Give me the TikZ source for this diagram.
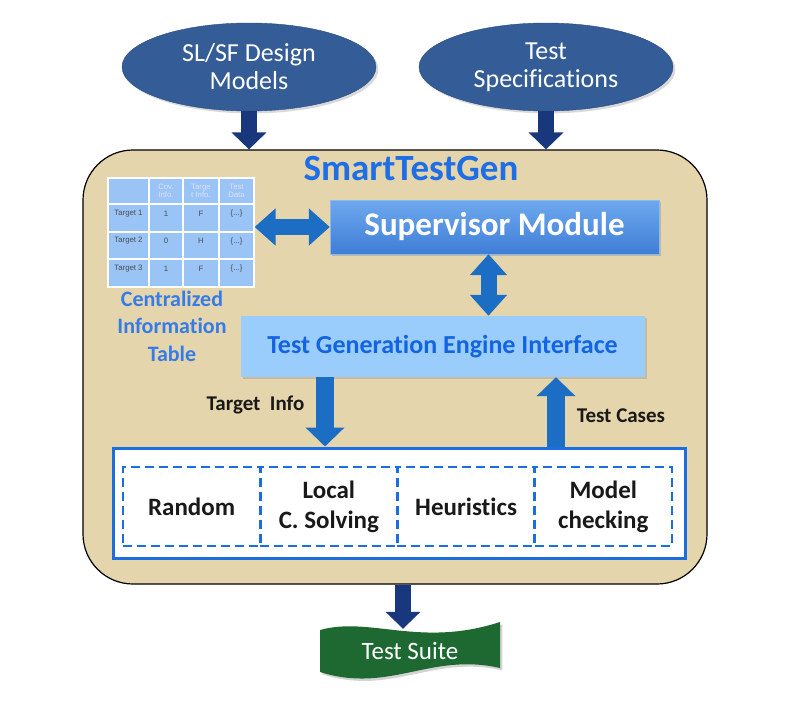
\documentclass[tikz,border=0pt]{standalone}
\usepackage{fontspec}
\setmainfont{Carlito}[Ligatures={NoCommon}]
\newfontfamily\tabfont{Liberation Sans}
\usepackage{xcolor}
\usetikzlibrary{arrows.meta, positioning, shapes.geometric, shadows}

\definecolor{parchment}{HTML}{E5D5AC}
\definecolor{navy}{HTML}{19377D}
\definecolor{blobfill}{HTML}{345C96}
\definecolor{blobedge}{HTML}{2B4C80}
\definecolor{linkblue}{HTML}{1C6EC4}
\definecolor{suptop}{HTML}{6EA8EE}
\definecolor{supbot}{HTML}{3F7ED6}
\definecolor{engfill}{HTML}{9ACCFC}
\definecolor{engtext}{HTML}{1464E1}
\definecolor{titleblue}{HTML}{1E6EE6}
\definecolor{tablefill}{HTML}{99C4F5}
\definecolor{techblue}{HTML}{1A6EE0}
\definecolor{suitegreen}{HTML}{1E6932}

\begin{document}
\begin{tikzpicture}[
    x=1pt, y=-1pt,
    blob/.style={
      ellipse, draw=blobedge, fill=blobfill, text=white,
      align=center, minimum width=254pt, minimum height=88pt,
      inner sep=0pt, font=\fontsize{26}{31}\selectfont,
      drop shadow={opacity=0.3}
    },
    mainbox/.style={
      draw=black, line width=1.2pt, fill=parchment,
      rounded corners=50pt, minimum width=624pt, minimum height=434pt
    },
    supbox/.style={
      draw=suptop!80!white, top color=suptop, bottom color=supbot,
      minimum width=329pt, minimum height=54pt, text=white,
      font=\bfseries\fontsize{33}{36}\selectfont,
      drop shadow={opacity=0.35}
    },
    engbox/.style={
      fill=engfill, minimum width=404pt, minimum height=61pt,
      text=engtext, font=\bfseries\fontsize{26}{30}\selectfont,
      drop shadow={opacity=0.3}
    },
    tabhead/.style={text=white!88!blue, align=center,
      font=\tabfont\fontsize{7.8}{8.6}\selectfont},
    tabcell/.style={text=black!70, font=\tabfont\fontsize{7.8}{8.6}\selectfont},
    techbox/.style={
      draw=techblue, line width=3pt, fill=white,
      minimum width=572pt, minimum height=110pt
    },
    engine/.style={
      draw=techblue, dash pattern=on 9pt off 5pt, line width=2.6pt,
      minimum width=137.25pt, minimum height=79pt, outer sep=0pt,
      inner sep=0pt, align=center, text=black!90,
      font=\bfseries\fontsize{25}{30}\selectfont
    },
    flowlabel/.style={anchor=base, text=black!90,
      font=\bfseries\fontsize{21}{24}\selectfont},
    navyarrow/.style={navy, line width=16pt, -{Triangle[length=17pt, width=34pt]}},
    bluearrow/.style={linkblue, line width=18pt, -{Triangle[length=19pt, width=38pt]}},
    dblarrow/.style={linkblue, line width=16pt,
      {Triangle[length=21pt, width=36pt]}-{Triangle[length=21pt, width=36pt]}}
]
\useasboundingbox (0,0) rectangle (808,702);

% --- Inputs ---
\node[blob] (models) at (249,67) {\raisebox{-3pt}{SL/SF Design}\\Models};
\node[blob] (specs) at (546,67) {\raisebox{-3pt}{Test}\\Specifications};

% --- Main box ---
\node[mainbox] (stg) at (395,367) {};
\node[text=titleblue, font=\bfseries\fontsize{37}{40}\selectfont] (title) at (411,168) {SmartTestGen};

% --- Information table ---
\node[fill=tablefill, draw=white, line width=1.2pt, minimum width=146pt,
      minimum height=109pt, inner sep=0pt] (cit) at (181,232.5) {};
\foreach \x in {149,183,219}
  \draw[white, line width=1.2pt] (\x,178) -- (\x,287);
\foreach \y in {204,232,259}
  \draw[white, line width=1.2pt] (108,\y) -- (254,\y);
\node[tabhead] (h1) at (166,191) {Cov.\\Info.};
\node[tabhead] (h2) at (201,191) {Targe\\t Info.};
\node[tabhead] (h3) at (236.5,191) {Test\\Data};
\foreach \n/\c/\k [count=\i] in {1/1/F, 2/0/H, 3/1/F} {
  \node[tabcell] (t\i) at (128.5,186+27.5*\i) {Target \n};
  \node[tabcell] (c\i) at (166,186+27.5*\i) {\c};
  \node[tabcell] (k\i) at (201,186+27.5*\i) {\k};
  \node[tabcell] (d\i) at (236.5,186+27.5*\i) {\{...\}};
}
\node[text=titleblue!90!white, align=center,
      font=\bfseries\fontsize{22}{27.5}\selectfont] (citlabel) at (172,326)
      {Centralized\\Information\\Table};

% --- Supervisor and engine interface ---
\node[supbox] (sup) at (494.5,227) {Supervisor Module};
\node[engbox] (eng) at (442.5,346.5) {Test Generation Engine Interface};

% --- Engines ---
\node[techbox] (tech) at (399,503) {};
\node[engine] (rnd) at (191.6,506.5) {Random};
\node[engine, right=0pt of rnd] (lcs) {Local\\C. Solving};
\node[engine, right=0pt of lcs] (heu) {Heuristics};
\node[engine, right=0pt of heu] (mc) {Model\\checking};

% --- Output ---
\path[fill=suitegreen, drop shadow={opacity=0.35}]
  (320,630) .. controls (370,616) and (420,648) .. (500,622)
  -- (500,668) .. controls (430,652) and (390,694) .. (320,672) -- cycle;
\node[text=white, minimum height=44pt, font=\fontsize{25}{28}\selectfont]
  (suite) at (410,651) {Test Suite};

% --- Arrows ---
\coordinate (ti) at (325,0);
\coordinate (tc) at (556,0);
\coordinate (suitetip) at ([xshift=-7pt]suite.north);
\draw[navyarrow] (models.south) -- (models.south |- stg.north);
\draw[navyarrow] (specs.south) -- (specs.south |- stg.north);
\draw[dblarrow] (cit.east |- sup.west) -- (sup.west);
\draw[dblarrow] ([xshift=-6pt]sup.south) -- ([xshift=-6pt]sup.south |- eng.north);
\draw[bluearrow] (eng.south -| ti) -- (tech.north -| ti);
\draw[bluearrow] (tech.north -| tc) -- (eng.south -| tc);
\draw[navyarrow] (stg.south -| suitetip) -- (suitetip);

\node[flowlabel] (tilabel) at (255.5,410) {Target\ \ Info};
\node[flowlabel] (tclabel) at (621,422) {Test Cases};

\end{tikzpicture}
\end{document}
